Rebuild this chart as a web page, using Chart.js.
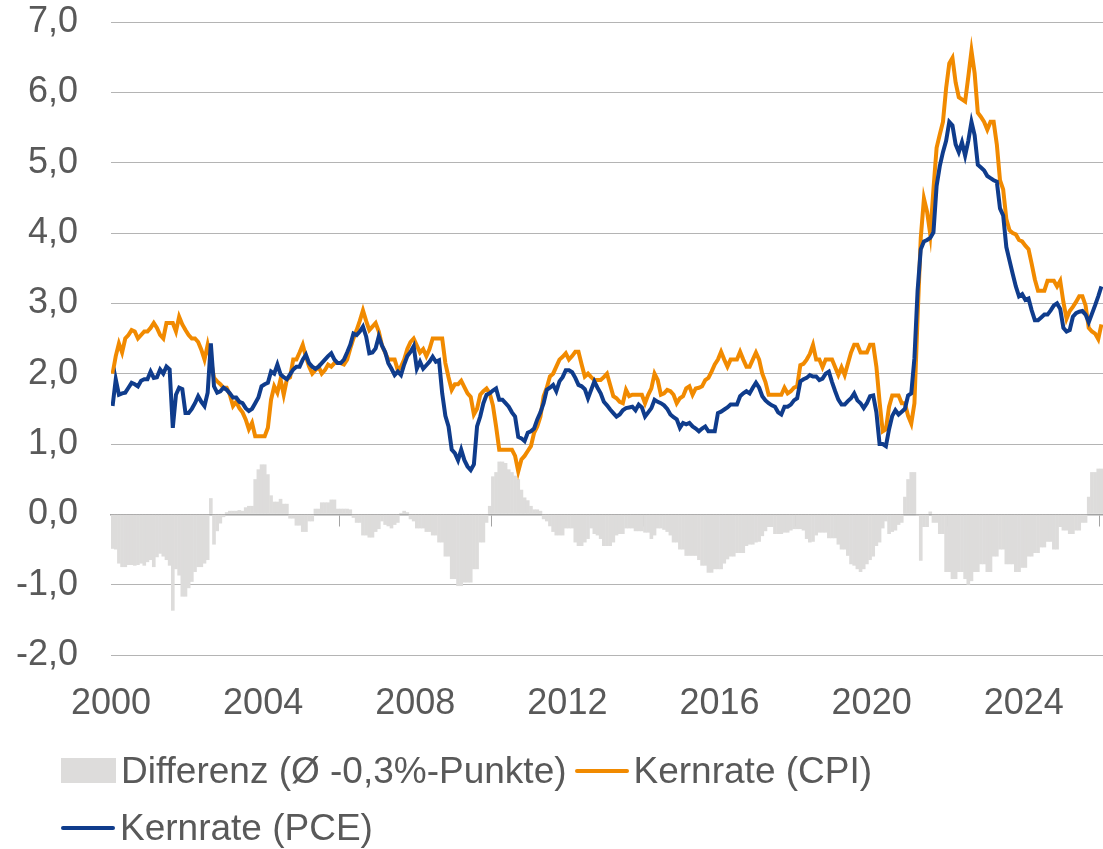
<!DOCTYPE html>
<html>
<head>
<meta charset="utf-8">
<title>Kernrate CPI vs PCE</title>
<script src="https://cdn.jsdelivr.net/npm/chart.js@4.4.1/dist/chart.umd.min.js"></script>
<style>
  body { margin: 0; background: #fff; }
  #wrap { position: relative; width: 1103px; height: 849px; }
  #legend {
    position: absolute; left: 61px; top: 742px; width: 1030px;
    display: flex; flex-wrap: wrap;
    font: 37px "Liberation Sans", Arial, sans-serif; color: #595959;
  }
  .item { display: flex; align-items: center; height: 57px; white-space: nowrap; margin-right: 8px; }
  .sym { display: inline-block; margin-right: 5px; }
</style>
</head>
<body>
<div id="wrap">
  <canvas id="chart" width="1103" height="849"></canvas>
  <div id="legend"></div>
</div>
<script>
// monthly values, Jan 2000 .. Jan 2026 (one row per year)

const startYear = 2000;

const tickYears = [2000, 2004, 2008, 2012, 2016, 2020, 2024];

const yTicks = [-2, -1, 0, 1, 2, 3, 4, 5, 6, 7];

const seriesLabels = ['Differenz (Ø -0,3%-Punkte)', 'Kernrate (CPI)', 'Kernrate (PCE)'];

// Kernrate CPI, % y/y
const cpiCore = [
  2.0, 2.25, 2.43, 2.3, 2.5, 2.55, 2.62, 2.6, 2.5, 2.55, 2.6, 2.6,
  2.65, 2.72, 2.65, 2.55, 2.5, 2.72, 2.72, 2.72, 2.6, 2.81, 2.7, 2.62,
  2.55, 2.5, 2.5, 2.45, 2.34, 2.2, 2.41, 2.2, 1.94, 1.89, 1.85, 1.8,
  1.8, 1.7, 1.54, 1.6, 1.51, 1.45, 1.35, 1.21, 1.3, 1.11, 1.11, 1.11,
  1.11, 1.23, 1.63, 1.82, 1.73, 1.92, 1.7, 1.92, 1.95, 2.2, 2.2, 2.3,
  2.41, 2.24, 2.1, 2.0, 2.05, 2.1, 2.0, 2.05, 2.13, 2.1, 2.15, 2.15,
  2.15, 2.13, 2.2, 2.36, 2.5, 2.62, 2.75, 2.9, 2.75, 2.62, 2.67, 2.72,
  2.6, 2.4, 2.3, 2.2, 2.2, 2.2, 2.05, 2.1, 2.2, 2.35, 2.45, 2.5,
  2.4, 2.3, 2.35, 2.25, 2.35, 2.5, 2.5, 2.5, 2.5, 2.15, 1.95, 1.77,
  1.85, 1.85, 1.9, 1.81, 1.72, 1.67, 1.42, 1.5, 1.7, 1.75, 1.79, 1.72,
  1.55, 1.25, 0.92, 0.92, 0.92, 0.92, 0.92, 0.83, 0.61, 0.78, 0.83, 0.9,
  0.97, 1.16, 1.25, 1.39, 1.68, 1.8, 1.96, 2.0, 2.1, 2.2, 2.24, 2.29,
  2.2, 2.25, 2.31, 2.31, 2.13, 1.96, 2.0, 1.95, 1.91, 1.91, 1.91, 1.95,
  2.0, 1.84, 1.68, 1.65, 1.6, 1.58, 1.77, 1.68, 1.7, 1.7, 1.7, 1.7,
  1.58, 1.7, 1.79, 2.0, 1.91, 1.7, 1.72, 1.77, 1.75, 1.7, 1.58, 1.65,
  1.68, 1.79, 1.82, 1.7, 1.79, 1.8, 1.82, 1.91, 1.94, 2.03, 2.13, 2.2,
  2.31, 2.2, 2.1, 2.2, 2.2, 2.2, 2.31, 2.2, 2.1, 2.1, 2.2, 2.3,
  2.2, 2.0, 1.88, 1.7, 1.7, 1.7, 1.7, 1.7, 1.8, 1.72, 1.75, 1.8,
  1.82, 2.12, 2.14, 2.2, 2.28, 2.41, 2.2, 2.2, 2.09, 2.2, 2.2, 2.2,
  2.09, 1.98, 2.09, 1.98, 2.14, 2.3, 2.41, 2.41, 2.3, 2.3, 2.3, 2.41,
  2.41, 2.1, 1.6, 1.18, 1.21, 1.53, 1.69, 1.69, 1.69, 1.58, 1.58, 1.4,
  1.29, 1.58, 2.81, 3.93, 4.49, 4.3, 3.98, 4.62, 5.21, 5.4, 5.58, 6.06,
  6.41, 6.49, 6.14, 5.93, 5.9, 5.87, 6.22, 6.59, 6.27, 5.71, 5.65, 5.58,
  5.47, 5.58, 5.58, 5.26, 4.75, 4.62, 4.2, 4.04, 4.0, 3.98, 3.9, 3.88,
  3.82, 3.77, 3.56, 3.34, 3.18, 3.18, 3.18, 3.32, 3.32, 3.32, 3.24, 3.32,
  3.02, 2.78, 2.89, 2.95, 3.02, 3.1, 3.1, 2.97, 2.65, 2.6, 2.57, 2.49,
  2.7
];

// Kernrate PCE, % y/y
const pceCore = [
  1.54, 1.92, 1.7, 1.72, 1.73, 1.8, 1.87, 1.85, 1.82, 1.9, 1.92, 1.92,
  2.03, 1.94, 1.95, 2.06, 2.0, 2.1, 2.06, 1.23, 1.7, 1.8, 1.78, 1.44,
  1.44, 1.5, 1.58, 1.68, 1.6, 1.54, 1.73, 2.43, 1.82, 1.73, 1.75, 1.8,
  1.77, 1.72, 1.66, 1.66, 1.6, 1.58, 1.51, 1.47, 1.5, 1.58, 1.66, 1.82,
  1.85, 1.87, 2.03, 2.0, 2.13, 1.99, 1.95, 1.92, 1.99, 2.06, 2.1, 2.1,
  2.2, 2.27, 2.15, 2.1, 2.07, 2.1, 2.15, 2.2, 2.25, 2.29, 2.2, 2.15,
  2.15, 2.2, 2.3, 2.41, 2.57, 2.55, 2.6, 2.67, 2.53, 2.29, 2.3, 2.36,
  2.53, 2.4, 2.31, 2.15, 2.07, 1.98, 2.03, 1.98, 2.13, 2.25, 2.31, 2.39,
  2.07, 2.17, 2.07, 2.12, 2.17, 2.24, 2.17, 2.19, 1.72, 1.4, 1.25, 0.92,
  0.87, 0.77, 0.92, 0.77, 0.68, 0.63, 0.71, 1.25, 1.39, 1.58, 1.7, 1.72,
  1.76, 1.79, 1.63, 1.63, 1.58, 1.53, 1.45, 1.39, 1.1, 1.08, 1.04, 1.16,
  1.18, 1.22, 1.35, 1.45, 1.58, 1.77, 1.8, 1.84, 1.75, 1.89, 1.95, 2.05,
  2.05, 2.02, 1.94, 1.84, 1.82, 1.78, 1.65, 1.77, 1.89, 1.8, 1.72, 1.6,
  1.55, 1.49, 1.44, 1.39, 1.42, 1.48, 1.51, 1.52, 1.53, 1.48, 1.56, 1.52,
  1.39, 1.45, 1.51, 1.63, 1.6, 1.58, 1.55, 1.5, 1.42, 1.38, 1.35, 1.23,
  1.3, 1.28, 1.3, 1.25, 1.22, 1.18, 1.22, 1.25, 1.18, 1.18, 1.18, 1.44,
  1.46, 1.49, 1.52, 1.56, 1.56, 1.56, 1.68, 1.72, 1.75, 1.72, 1.8, 1.87,
  1.8, 1.68, 1.62, 1.58, 1.55, 1.53, 1.45, 1.42, 1.53, 1.53, 1.56, 1.62,
  1.65, 1.89, 1.92, 1.94, 1.98, 1.96, 1.96, 1.91, 1.93, 2.0, 2.03, 1.88,
  1.75, 1.63, 1.56, 1.56, 1.61, 1.65, 1.72, 1.62, 1.58, 1.51, 1.58, 1.68,
  1.69, 1.45, 1.0, 1.0, 0.97, 1.21, 1.4, 1.48, 1.42, 1.46, 1.5, 1.69,
  1.72, 2.22, 3.18, 3.77, 3.88, 3.9, 3.93, 4.01, 4.67, 4.95, 5.15, 5.31,
  5.58, 5.53, 5.26, 5.15, 5.29, 5.1, 5.31, 5.58, 5.39, 4.97, 4.93, 4.89,
  4.81, 4.78, 4.75, 4.73, 4.35, 4.25, 3.8, 3.61, 3.42, 3.24, 3.1, 3.13,
  3.05, 3.07, 2.9, 2.76, 2.76, 2.8, 2.84, 2.84, 2.9, 2.97, 3.0, 2.92,
  2.65, 2.6, 2.62, 2.81, 2.86, 2.88, 2.89, 2.84, 2.73, 2.85, 2.97, 3.1,
  3.24
];

// Differenz PCE minus CPI, %-Punkte (grey bars)
const diffPceCpi = [
  -0.49, -0.5, -0.7, -0.75, -0.75, -0.72, -0.72, -0.73, -0.72, -0.7, -0.73, -0.68,
  -0.65, -0.75, -0.61, -0.56, -0.6, -0.65, -0.73, -1.37, -0.78, -0.87, -1.17, -1.17,
  -1.05, -0.96, -0.82, -0.75, -0.75, -0.7, -0.65, 0.23, -0.43, -0.24, -0.13, -0.04,
  0.03, 0.05, 0.05, 0.05, 0.06, 0.05, 0.1, 0.12, 0.12, 0.5, 0.64, 0.71,
  0.71, 0.57, 0.27, 0.18, 0.18, 0.22, 0.15, 0.15, -0.06, -0.06, -0.16, -0.16,
  -0.25, -0.25, -0.1, -0.1, 0.08, 0.08, 0.17, 0.17, 0.17, 0.21, 0.21, 0.08,
  0.08, 0.08, 0.08, 0.07, -0.05, -0.12, -0.12, -0.3, -0.3, -0.33, -0.33, -0.25,
  -0.21, -0.1, -0.15, -0.17, -0.2, -0.15, -0.12, 0.02, 0.05, 0.03, -0.07, -0.1,
  -0.2, -0.2, -0.2, -0.25, -0.25, -0.3, -0.3, -0.4, -0.4, -0.6, -0.6, -0.92,
  -0.92, -1.02, -1.02, -0.97, -0.97, -0.97, -0.78, -0.78, -0.4, -0.4, -0.12, 0.12,
  0.54, 0.6, 0.75, 0.75, 0.73, 0.64, 0.6, 0.55, 0.5, 0.35, 0.24, 0.2,
  0.12, 0.07, 0.07, 0.05, -0.07, -0.1, -0.17, -0.25, -0.3, -0.3, -0.3, -0.2,
  -0.2, -0.2, -0.4, -0.45, -0.45, -0.4, -0.35, -0.2, -0.28, -0.3, -0.35, -0.45,
  -0.45, -0.45, -0.4, -0.3, -0.28, -0.28, -0.2, -0.2, -0.2, -0.24, -0.24, -0.24,
  -0.26, -0.26, -0.35, -0.3, -0.2, -0.2, -0.22, -0.25, -0.3, -0.4, -0.4, -0.5,
  -0.5, -0.59, -0.59, -0.59, -0.59, -0.65, -0.73, -0.73, -0.83, -0.83, -0.78, -0.78,
  -0.78, -0.7, -0.64, -0.6, -0.6, -0.55, -0.55, -0.55, -0.45, -0.43, -0.43, -0.4,
  -0.39, -0.31, -0.24, -0.18, -0.18, -0.28, -0.28, -0.28, -0.26, -0.26, -0.23, -0.21,
  -0.21, -0.21, -0.23, -0.35, -0.4, -0.39, -0.3, -0.26, -0.26, -0.26, -0.34, -0.34,
  -0.34, -0.43, -0.5, -0.5, -0.59, -0.71, -0.73, -0.78, -0.82, -0.78, -0.71, -0.65,
  -0.6, -0.45, -0.4, -0.2, -0.1, -0.28, -0.25, -0.23, -0.15, -0.12, 0.25, 0.5,
  0.6, 0.6, -0.02, -0.66, -0.18, -0.18, 0.04, -0.12, -0.12, -0.28, -0.28, -0.82,
  -0.82, -0.92, -0.92, -0.82, -0.82, -0.92, -1.0, -0.95, -0.82, -0.82, -0.71, -0.71,
  -0.82, -0.82, -0.6, -0.6, -0.5, -0.5, -0.71, -0.71, -0.71, -0.82, -0.82, -0.76,
  -0.76, -0.6, -0.6, -0.55, -0.55, -0.47, -0.47, -0.39, -0.39, -0.5, -0.5, -0.18,
  -0.23, -0.23, -0.28, -0.28, -0.23, -0.23, -0.12, -0.12, 0.25, 0.6, 0.6, 0.65,
  0.65
];

const fontFamily = '"Liberation Sans", Arial, sans-serif';
const textColor = '#595959';

// month index -> x value (month i sits in the middle of its slot)
function toXY(values) {
  return values.map(function (v, i) { return { x: i, y: v }; });
}

// year ticks sit on the slot boundary before January
const tickValues = tickYears.map(function (yr) { return (yr - startYear) * 12 - 0.5; });

function setYearTicks(scale) {
  scale.ticks = tickValues.map(function (v) { return { value: v }; });
}

const lastIndex = cpiCore.length - 1;

const ctx = document.getElementById('chart');

let chart = new Chart(ctx, {
  type: 'bar',
  data: {
    datasets: [
      {
        type: 'bar',
        label: seriesLabels[0],
        data: toXY(diffPceCpi),
        backgroundColor: '#dddcdb',
        borderWidth: 0,
        barPercentage: 1.15,
        categoryPercentage: 1,
        order: 3
      },
      {
        type: 'line',
        label: seriesLabels[1],
        data: toXY(cpiCore),
        borderColor: '#f18a00',
        backgroundColor: '#f18a00',
        borderWidth: 4,
        pointRadius: 0,
        tension: 0,
        order: 2
      },
      {
        type: 'line',
        label: seriesLabels[2],
        data: toXY(pceCore),
        borderColor: '#0f3c8c',
        backgroundColor: '#0f3c8c',
        borderWidth: 4,
        pointRadius: 0,
        tension: 0,
        order: 1
      }
    ]
  },
  options: {
    responsive: false,
    animation: false,
    devicePixelRatio: 1,
    layout: { padding: { top: 22, right: 0, bottom: 124, left: 0 } },
    plugins: {
      legend: { display: false },
      tooltip: { enabled: false }
    },
    scales: {
      x: {
        type: 'linear',
        min: -0.5,
        max: lastIndex + 0.5,
        offset: false,
        grid: { display: false },
        border: { display: false },
        afterBuildTicks: setYearTicks,
        afterFit: function (s) { s.height = 70; },
        ticks: {
          autoSkip: false,
          maxRotation: 0,
          padding: 19,
          color: textColor,
          font: { family: fontFamily, size: 36 },
          callback: function (v) { return String(startYear + Math.round((v + 0.5) / 12)); }
        }
      },
      // zero line with the small year tick marks
      x2: {
        type: 'linear',
        position: { y: 0 },
        min: -0.5,
        max: lastIndex + 0.5,
        offset: false,
        afterBuildTicks: setYearTicks,
        grid: { drawOnChartArea: false, drawTicks: true, tickLength: 11, color: '#a3a3a3', lineWidth: 1 },
        border: { display: true, color: '#a3a3a3', width: 1.5 },
        ticks: { display: false }
      },
      y: {
        min: yTicks[0],
        max: yTicks[yTicks.length - 1],
        afterBuildTicks: function (s) { s.ticks = yTicks.map(function (v) { return { value: v }; }); },
        afterFit: function (s) {
          s.width = 111;
          // tick padding is only meant as horizontal gap
          s.paddingTop = 0;
          s.paddingBottom = 0;
        },
        grid: { color: '#b4b4b4', lineWidth: 1, drawTicks: false },
        border: { display: false },
        ticks: {
          padding: 33,
          color: textColor,
          font: { family: fontFamily, size: 36 },
          callback: function (v) { return v.toFixed(1).replace('.', ','); }
        }
      }
    }
  }
});

// Legend as html below the plot, built from the datasets

const legendBox = document.getElementById('legend');

chart.data.datasets.forEach(function (ds) {

  const item = document.createElement('div');

  item.className = 'item';

  const sym = document.createElement('span');

  sym.className = 'sym';

  if (ds.type === 'bar') {
    sym.style.width = '55px';
    sym.style.height = '25px';
    sym.style.background = ds.backgroundColor;
  } else {
    sym.style.width = '54px';
    sym.style.height = '4px';
    sym.style.borderRadius = '2px';
    sym.style.background = ds.borderColor;
  }

  item.appendChild(sym);

  item.appendChild(document.createTextNode(ds.label));

  legendBox.appendChild(item);
});
</script>
</body>
</html>
